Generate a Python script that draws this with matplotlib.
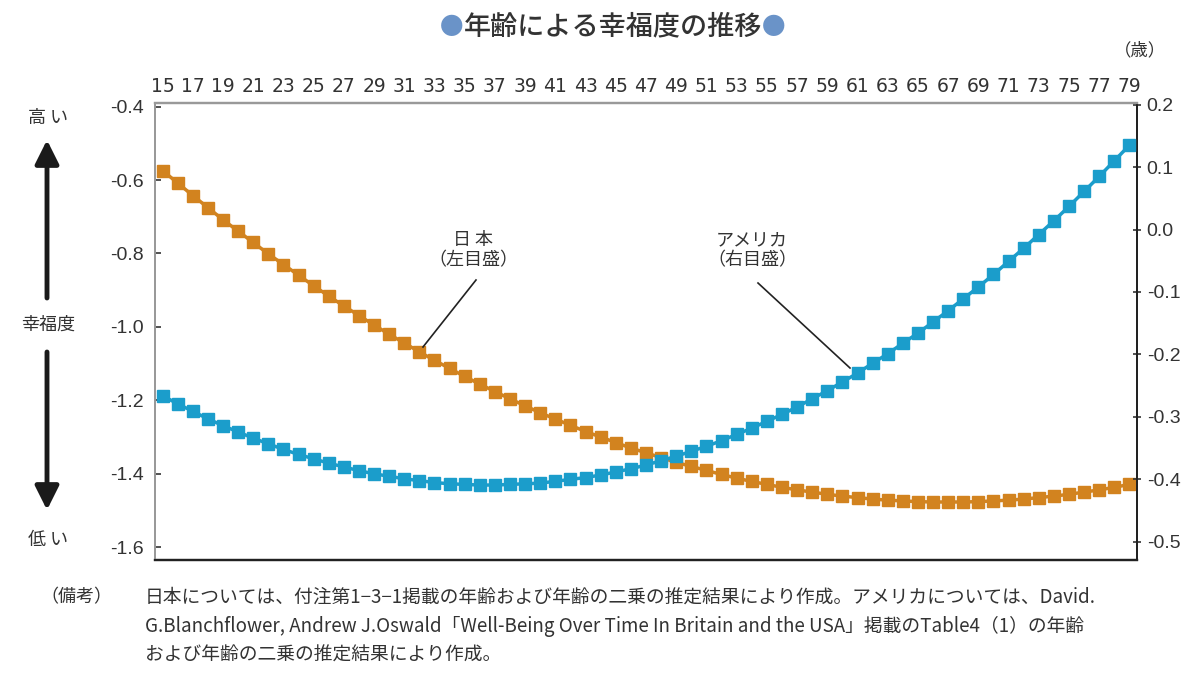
import numpy as np
import matplotlib
matplotlib.use('Agg')
import matplotlib.pyplot as plt

plt.rcParams['font.family'] = ['Noto Sans CJK JP', 'DejaVu Sans']
plt.rcParams['axes.unicode_minus'] = False

# 年齢
ages = list(range(15, 80))

# 日本（左目盛）
japan = [-0.574, -0.608, -0.642, -0.675, -0.708, -0.739, -0.770, -0.801, -0.830, -0.859,
         -0.888, -0.916, -0.943, -0.969, -0.995, -1.020, -1.044, -1.068, -1.091, -1.113,
         -1.135, -1.156, -1.176, -1.196, -1.215, -1.234, -1.251, -1.268, -1.285, -1.300,
         -1.315, -1.330, -1.343, -1.356, -1.369, -1.380, -1.391, -1.402, -1.412, -1.421,
         -1.429, -1.437, -1.444, -1.450, -1.456, -1.461, -1.465, -1.469, -1.472, -1.474,
         -1.476, -1.477, -1.477, -1.477, -1.476, -1.474, -1.472, -1.469, -1.465, -1.461,
         -1.456, -1.450, -1.444, -1.437, -1.429]

# アメリカ（右目盛）
usa = [-0.266, -0.279, -0.291, -0.303, -0.314, -0.324, -0.334, -0.343, -0.352, -0.360,
       -0.367, -0.374, -0.380, -0.386, -0.391, -0.395, -0.399, -0.402, -0.405, -0.407,
       -0.408, -0.409, -0.409, -0.408, -0.407, -0.406, -0.403, -0.400, -0.397, -0.393,
       -0.388, -0.383, -0.377, -0.370, -0.363, -0.355, -0.347, -0.338, -0.328, -0.318,
       -0.307, -0.296, -0.284, -0.271, -0.258, -0.244, -0.230, -0.214, -0.199, -0.182,
       -0.166, -0.148, -0.130, -0.111, -0.092, -0.072, -0.051, -0.030, -0.008, 0.014,
       0.037, 0.061, 0.085, 0.110, 0.135]

left_ticks = [-0.4, -0.6, -0.8, -1.0, -1.2, -1.4, -1.6]
right_ticks = [0.2, 0.1, 0.0, -0.1, -0.2, -0.3, -0.4, -0.5]

W, H = 1200, 674
fig = plt.figure(figsize=(12, 6.74), dpi=100)
def fx(px): return px / W
def fy(py): return 1 - py / H

ax = fig.add_axes([fx(155), fy(560), fx(1137) - fx(155), fy(103) - fy(560)])
ax2 = ax.twinx()

orange = '#d2831f'
blue = '#1b9dcb'
txt = '#333333'

ax.plot(ages, japan, color=orange, lw=2.5, marker='s', ms=8.5, zorder=3)
ax2.plot(ages, usa, color=blue, lw=2.5, marker='s', ms=8.5, zorder=3)

ax.set_xlim(14.5, 79.5)
ax.set_ylim(-1.635, -0.39)
ax2.set_ylim(-0.529, 0.2025)

ax.xaxis.tick_top()
ax.set_xticks(ages[::2])
ax.set_xticklabels([str(a) for a in ages[::2]], family=['Liberation Sans Narrow', 'DejaVu Sans'],
                   fontsize=13.5, color=txt)
ax.tick_params(axis='x', length=0, pad=5)

ax.set_yticks(left_ticks)
ax.set_yticklabels([f'{v:.1f}' for v in left_ticks], family=['Liberation Sans', 'DejaVu Sans'],
                   fontsize=14, color=txt)
ax.tick_params(axis='y', direction='in', length=4, width=1.2, color=txt, pad=8)
ax2.set_yticks(right_ticks)
ax2.set_yticklabels([f'{v:.1f}' for v in right_ticks], family=['Liberation Sans', 'DejaVu Sans'],
                    fontsize=14, color=txt)
ax2.tick_params(axis='y', direction='inout', length=6, width=1.2, color=txt, pad=4)

for a in (ax, ax2):
    a.spines['top'].set_color('#999999')
    a.spines['left'].set_color('#999999')
    a.spines['bottom'].set_color('#222222')
    a.spines['right'].set_color('#222222')
    a.spines['bottom'].set_linewidth(1.6)
    a.spines['right'].set_linewidth(1.4)
    a.spines['top'].set_linewidth(1.6)
    a.spines['left'].set_linewidth(1.4)

# タイトル
fig.text(fx(452), fy(27), '●', color='#6a93c8', fontsize=17, ha='center', va='center')
fig.text(fx(613), fy(27), '年齢による幸福度の推移', fontsize=19.5, fontweight='medium',
         color=txt, ha='center', va='center')
fig.text(fx(774), fy(27), '●', color='#6a93c8', fontsize=17, ha='center', va='center')
fig.text(fx(1140), fy(50), '（歳）', fontsize=12.5, color=txt, ha='center', va='center')

# 左側の説明
fig.text(fx(48), fy(118), '高 い', fontsize=13, color=txt, ha='center', va='center')
fig.text(fx(48), fy(325), '幸福度', fontsize=13, color=txt, ha='center', va='center')
fig.text(fx(48), fy(540), '低 い', fontsize=13, color=txt, ha='center', va='center')
arrow = dict(arrowstyle='-|>,head_length=0.9,head_width=0.45', color='#1a1a1a', lw=3.5,
             shrinkA=0, shrinkB=0)
fig.add_artist(matplotlib.patches.FancyArrowPatch((fx(47), fy(298)), (fx(47), fy(140)),
               transform=fig.transFigure, mutation_scale=16, **arrow))
fig.add_artist(matplotlib.patches.FancyArrowPatch((fx(47), fy(352)), (fx(47), fy(510)),
               transform=fig.transFigure, mutation_scale=16, **arrow))

# 系列の注記
fig.text(fx(473), fy(250), '日 本\n（左目盛）', fontsize=13, color=txt, ha='center', va='center',
         linespacing=1.15)
fig.text(fx(752), fy(250), 'アメリカ\n（右目盛）', fontsize=13, color=txt, ha='center', va='center',
         linespacing=1.15)
fig.add_artist(plt.Line2D([fx(476), fx(423)], [fy(280), fy(347)], color='#222222', lw=1.2))
fig.add_artist(plt.Line2D([fx(758), fx(850)], [fy(283), fy(368)], color='#222222', lw=1.2))

# 備考
fig.text(fx(40), fy(597), '（備考）', fontsize=13, color=txt, ha='left', va='center')
notes = ['日本については、付注第1−3−1掲載の年齢および年齢の二乗の推定結果により作成。アメリカについては、David.',
         'G.Blanchflower, Andrew J.Oswald「Well-Being Over Time In Britain and the USA」掲載のTable4（1）の年齢',
         'および年齢の二乗の推定結果により作成。']
for i, line in enumerate(notes):
    fig.text(fx(145), fy(597 + 29 * i), line, fontsize=13.5, color=txt, ha='left', va='center')

plt.savefig('out.png', dpi=100)
